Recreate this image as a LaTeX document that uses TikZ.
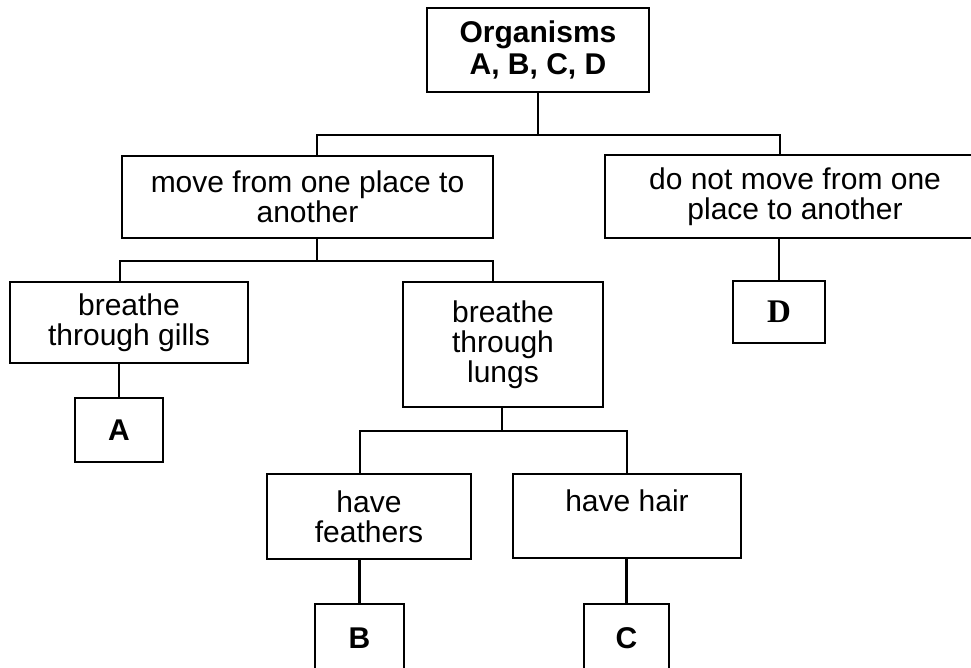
\documentclass[tikz,border=0pt]{standalone}
\usepackage{fontspec}
\setmainfont{Liberation Sans}
\newfontfamily\serifD{Liberation Serif}
\begin{document}
\begin{tikzpicture}[x=1pt,y=-1pt,
  box/.style={draw, line width=2.8pt, rectangle, inner sep=0pt, align=center,
    font=\fontsize{30}{30}\selectfont},
  boldbox/.style={box, font=\fontsize{30}{32}\selectfont\bfseries},
  conn/.style={line width=2.8pt, line cap=rect}]
\useasboundingbox (0,0) rectangle (971,667);
\fill[white] (0,0) rectangle (971,667);

% boxes
\node[boldbox, minimum width=222pt, minimum height=84pt] (org) at (538,50) {Organisms\\A, B, C, D};
\node[box, minimum width=371pt, minimum height=82pt] (move) at (307.5,197) {move from one place to\\another};
\node[box, minimum width=380pt, minimum height=83pt] (notmove) at (795,196.5) {do not move from one\\place to another};
\node[box, minimum width=238pt, minimum height=81pt] (gills) at (129,322.5) {breathe\\through gills};
\node[box, minimum width=200pt, minimum height=125pt] (lungs) at (503,344.5) {breathe\\through\\lungs};
\node[boldbox, minimum width=92pt, minimum height=62pt] (D) at (779,312) {\fontsize{33}{33}\selectfont\serifD D};
\node[boldbox, minimum width=88pt, minimum height=64pt] (A) at (119,430) {A};
\node[box, minimum width=204pt, minimum height=85pt] (feathers) at (369,516.5) {have\\feathers};
\node[box, minimum width=228pt, minimum height=84pt] (hair) at (627,516) {have hair\\\mbox{}};
\node[boldbox, minimum width=89pt, minimum height=68pt] (B) at (359.5,638) {B};
\node[boldbox, minimum width=85pt, minimum height=68pt] (C) at (626.5,638) {C};

% junction points
\coordinate (t0) at (538,135);
\coordinate (tl) at (317,135);
\coordinate (tr) at (780,135);
\coordinate (m0) at (317,261);
\coordinate (ml) at (120,261);
\coordinate (mr) at (493,261);
\coordinate (l0) at (502,431);
\coordinate (ll) at (360,431);
\coordinate (lr) at (627,431);

% connectors
\draw[conn] (org.south) -- (t0);
\draw[conn] (tl |- move.north) -- (tl) -- (tr) -- (tr |- notmove.north);
\draw[conn] (m0 |- move.south) -- (m0);
\draw[conn] (ml |- gills.north) -- (ml) -- (mr) -- (mr |- lungs.north);
\draw[conn] (notmove.south -| D) -- (D.north);
\draw[conn] (gills.south -| A) -- (A.north);
\draw[conn] (l0 |- lungs.south) -- (l0);
\draw[conn] (ll |- feathers.north) -- (ll) -- (lr) -- (lr |- hair.north);
\draw[conn] (feathers.south -| B) -- (B.north);
\draw[conn] (hair.south -| C) -- (C.north);
\end{tikzpicture}
\end{document}
